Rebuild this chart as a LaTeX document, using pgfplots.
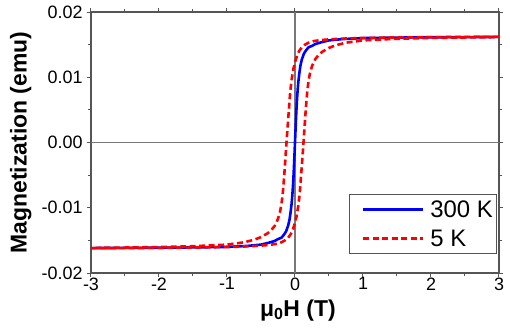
\documentclass[border=0pt]{standalone}
\usepackage{fontspec}
\setmainfont{Liberation Sans}
\usepackage{pgfplots}
\pgfplotsset{compat=1.18}
\definecolor{frame}{RGB}{85,85,85}
\definecolor{gline}{RGB}{120,120,120}
\pgfplotstableread{
H M
-3 -0.01618
-2 -0.01613
-1.5 -0.01608
-1 -0.01600
-0.7 -0.01585
-0.5 -0.01565
-0.4 -0.01540
-0.3 -0.01510
-0.25 -0.01480
-0.2 -0.01460
-0.16 -0.01410
-0.13 -0.01360
-0.1 -0.01270
-0.08 -0.01180
-0.065 -0.01070
-0.05 -0.00940
-0.04 -0.00820
-0.03 -0.00670
-0.02 -0.00480
-0.01 -0.00250
0 0
0.01 0.00250
0.02 0.00480
0.03 0.00670
0.04 0.00820
0.05 0.00940
0.065 0.01070
0.08 0.01180
0.1 0.01270
0.13 0.01360
0.16 0.01410
0.2 0.01460
0.25 0.01480
0.3 0.01510
0.4 0.01540
0.5 0.01565
0.7 0.01585
1 0.01600
1.5 0.01608
2 0.01613
3 0.01618
}\tableA
\pgfplotstableread{
H M
3 0.01620
2 0.01615
1.5 0.01610
1 0.01602
0.7 0.01592
0.5 0.01580
0.38 0.01570
0.28 0.01555
0.2 0.01530
0.14 0.01495
0.1 0.01460
0.06 0.01400
0.03 0.01330
0 0.01230
-0.025 0.01120
-0.05 0.00960
-0.07 0.00780
-0.09 0.00500
-0.11 0.00220
-0.125 0.0
-0.14 -0.00230
-0.16 -0.00530
-0.18 -0.00780
-0.2 -0.00950
-0.22 -0.01060
-0.25 -0.01170
-0.3 -0.01280
-0.35 -0.01345
-0.4 -0.01390
-0.5 -0.01450
-0.6 -0.01490
-0.75 -0.01530
-1 -0.01565
-1.5 -0.01590
-2 -0.01603
-2.5 -0.01610
-3 -0.01615
-3 -0.01620
-2 -0.01615
-1.5 -0.01610
-1 -0.01602
-0.7 -0.01592
-0.5 -0.01580
-0.38 -0.01570
-0.28 -0.01555
-0.2 -0.01530
-0.14 -0.01495
-0.1 -0.01460
-0.06 -0.01400
-0.03 -0.01330
0 -0.01230
0.025 -0.01120
0.05 -0.00960
0.07 -0.00780
0.09 -0.00500
0.11 -0.00220
0.125 0.0
0.14 0.00230
0.16 0.00530
0.18 0.00780
0.2 0.00950
0.22 0.01060
0.25 0.01170
0.3 0.01280
0.35 0.01345
0.4 0.01390
0.5 0.01450
0.6 0.01490
0.75 0.01530
1 0.01565
1.5 0.01590
2 0.01603
2.5 0.01610
3 0.01615
}\tableB
\begin{document}
\begin{tikzpicture}
\begin{axis}[
  scale only axis, width=408bp, height=261bp,
  xmin=-3, xmax=3, ymin=-0.02, ymax=0.02,
  scaled y ticks=false, scaled x ticks=false,
  xtick={-3,-2,-1,0,1,2,3}, xticklabels={-3,-2,-1,0,1,2,3},
  ytick={-0.02,-0.01,0,0.01,0.02}, yticklabels={-0.02,-0.01,0.00,0.01,0.02},
  minor x tick num=1, minor y tick num=1,
  tick align=outside, major tick length=4bp, minor tick length=3bp,
  axis line style={frame, line width=1.2bp},
  every tick/.style={frame, line width=1bp},
  tick label style={font=\fontsize{18}{20}\selectfont},
  xticklabel style={yshift=3bp},
  yticklabel style={xshift=-1bp},
  extra x ticks={0}, extra y ticks={0},
  extra x tick labels={{}}, extra y tick labels={{}},
  extra tick style={grid=major, major grid style={gline, line width=1.3bp}},
  xlabel={\textbf{μ\textsubscript{0}H (T)}},
  ylabel={\textbf{Magnetization (emu)}},
  label style={font=\fontsize{23}{25}\selectfont},
  xlabel style={at={(axis description cs:0.507,-0.165)}, anchor=base},
  ylabel style={at={(axis description cs:-0.172,0.5)}, anchor=center},
  legend style={at={(axis description cs:0.996,0.303)}, anchor=north east,
    draw=frame, line width=1bp, font=\fontsize{24}{26}\selectfont,
    cells={anchor=west}, inner xsep=2bp, inner ysep=4bp, row sep=7bp},
  legend image code/.code={\path (-10bp,0bp) (64bp,0bp);\draw[#1] (0bp,0bp) -- (60bp,0bp);},
]
\addplot[blue, line width=2.6bp] table[x=H, y=M] {\tableA};
\addlegendentry{300 K}
\addplot[red, line width=2.6bp, dash pattern=on 6bp off 3.5bp] table[x=H, y=M] {\tableB};
\addlegendentry{5 K}
\end{axis}
\path (current axis.south west) ++(-91bp,-63bp) rectangle ++(510bp,336bp);
\end{tikzpicture}
\end{document}
